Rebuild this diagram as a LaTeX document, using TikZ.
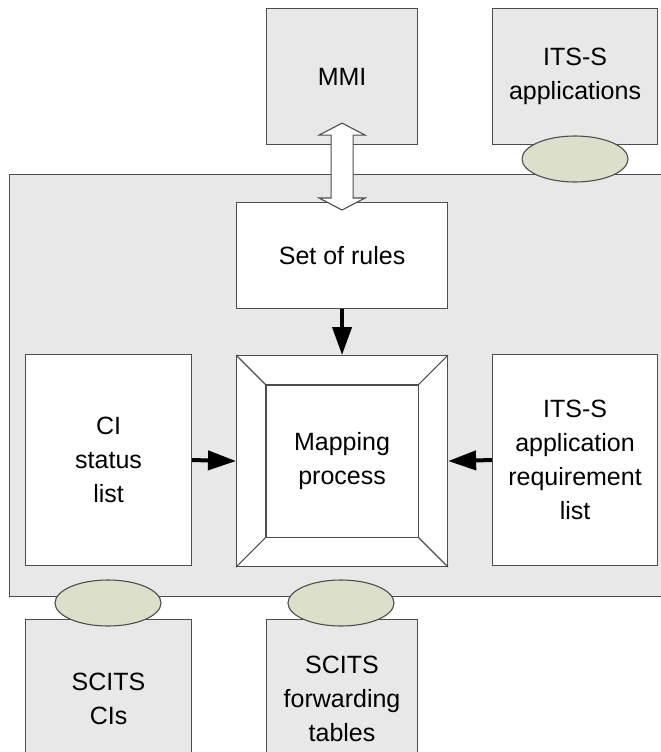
\documentclass[tikz,border=0pt]{standalone}
\usepackage{fontspec}
\setmainfont{Liberation Sans}
\usetikzlibrary{arrows.meta, calc, shapes.geometric}
\definecolor{boxgray}{HTML}{E8E8E8}
\definecolor{portgreen}{HTML}{DCE0CB}
\definecolor{edgegray}{HTML}{4D4D4D}

\begin{document}
\begin{tikzpicture}[x=1pt, y=-1pt,
	font=\fontsize{25}{34}\selectfont,
	graybox/.style={draw=edgegray, fill=boxgray, line width=1.1pt, align=center, inner sep=0pt, anchor=north west},
	whitebox/.style={draw=edgegray, fill=white, line width=1.1pt, align=center, inner sep=0pt, anchor=north west},
	port/.style={ellipse, draw=edgegray, fill=portgreen, line width=1.1pt,
		minimum width=106pt, minimum height=46pt, inner sep=0pt},
	flow/.style={line width=4pt, -{Triangle[length=28pt, width=19pt]}}]
	
	\useasboundingbox (0,0) rectangle (661,752);
	\clip (0,0) rectangle (661,752);
	
	% mapping function frame
	\node[graybox, minimum width=691pt, minimum height=422pt] (frame) at (9,174) {};
	
	% outside entities
	\node[graybox, minimum width=151pt, minimum height=136pt] (mmi) at (266,8) {MMI};
	\node[graybox, minimum width=165pt, minimum height=136pt] (apps) at (492,8) {ITS-S\\applications};
	\node[port] (appsport) at (575,159) {};
	
	% inside the frame
	\node[whitebox, minimum width=211pt, minimum height=106pt] (rules) at (236,202) {Set of rules};
	\node[whitebox, minimum width=166pt, minimum height=211pt] (cilist) at (25,354) {CI\\status\\list};
	\node[whitebox, minimum width=211pt, minimum height=211pt] (map) at (236,355) {Mapping\\process};
	\node[whitebox, minimum width=165pt, minimum height=211pt] (reqlist) at (492,354) {ITS-S\\application\\requirement\\list};
	
	% bevel of the mapping box
	\draw[edgegray, line width=1.1pt] ($(map.north west)+(30,30)$) rectangle ($(map.south east)+(-30,-30)$);
	\foreach \c/\dx/\dy in {north west/30/30, north east/-30/30, south west/30/-30, south east/-30/-30}
		\draw[edgegray, line width=1.1pt] (map.\c) -- ($(map.\c)+(\dx,\dy)$);
	
	% SCITS below
	\node[graybox, minimum width=166pt, minimum height=158pt] (scitsci) at (25,619) {SCITS\\CIs};
	\node[graybox, minimum width=151pt, minimum height=158pt] (scitsfw) at (266,619) {SCITS\\forwarding\\tables};
	\node[port] (ciport) at (108,603) {};
	\node[port] (fwport) at (341,603) {};
	
	% flows into the mapping process
	\draw[flow] (rules.south) -- (map.north);
	\draw[flow] (cilist.east) -- (map.west);
	\draw[flow] (reqlist.west) -- (map.east);
	
	% MMI <-> rules (hollow double arrow)
	\coordinate (up) at ($(mmi.south)+(0,-22)$);
	\coordinate (dn) at ($(rules.north)+(0,8)$);
	\draw[edgegray, fill=white, line width=1.1pt] (up) -- ++(23,12) -- ++(-12,0)
		-- ($(dn)+(11,-12)$) -- ++(12,0) -- (dn) -- ++(-23,-12) -- ++(12,0)
		-- ($(up)+(-11,12)$) -- ++(-12,0) -- cycle;
	
\end{tikzpicture}
\end{document}
